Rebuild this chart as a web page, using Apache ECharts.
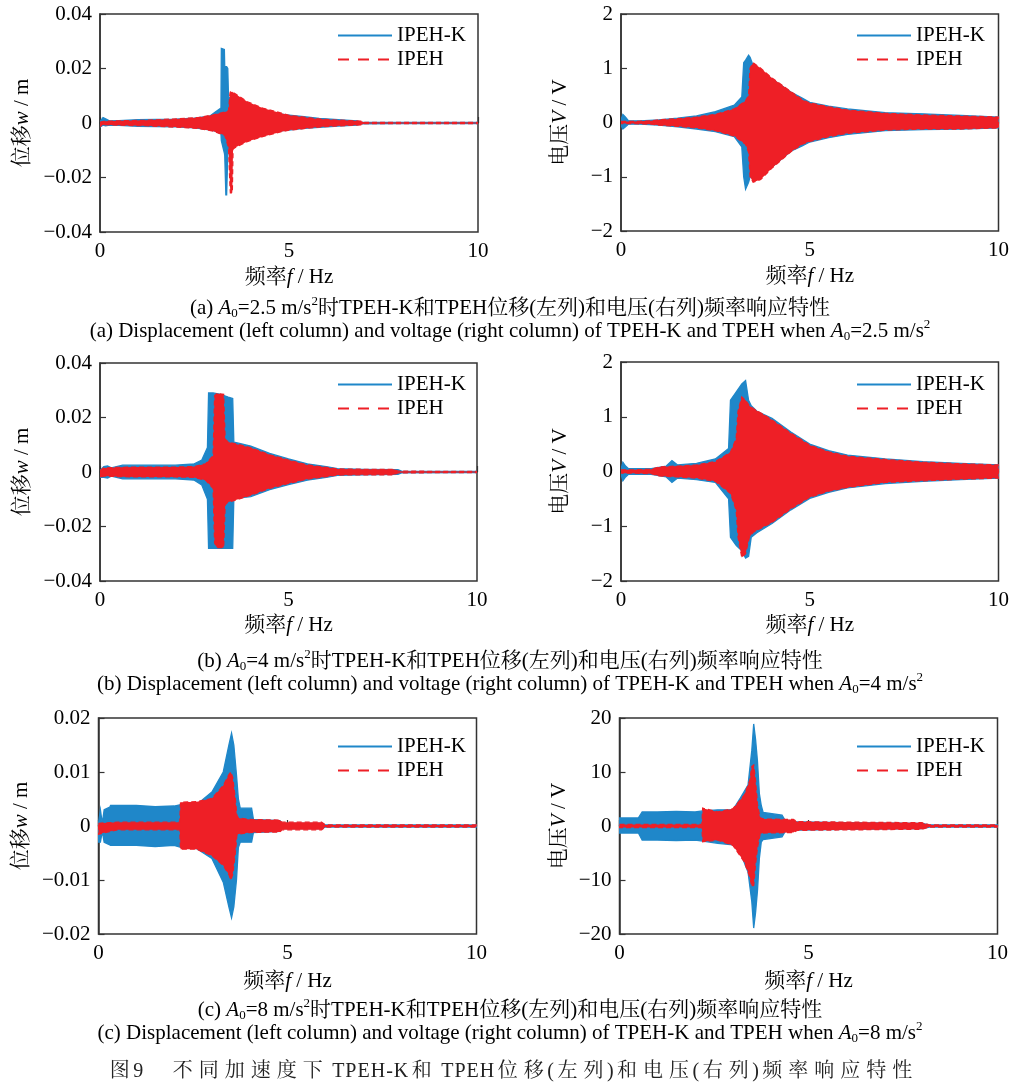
<!DOCTYPE html>
<html>
<head>
<meta charset="utf-8">
<script src="https://cdn.jsdelivr.net/npm/echarts@6/dist/echarts.min.js"></script>
<style>html,body{margin:0;padding:0;background:#fff}#c{width:1012px;height:1085px}</style>
</head>
<body>
<div id="c"></div>
<script>
// ---------- data (envelopes) ----------
// (a) A0 = 2.5 m/s^2 — displacement
const dispA_K_f  = [0,0.08,0.15,0.25,0.5,1.0,1.5,2.0,2.5,2.9,3.05,3.2,3.21,3.29,3.30,3.33,3.35,3.38,3.40,3.5,3.8,4.2,4.6,5.0,5.4,5.8,6.3,6.8,6.9,8,10];
const dispA_K_hi = [0.0005,0.002,0.0015,0.0008,0.0009,0.0012,0.0013,0.0014,0.0018,0.0025,0.004,0.0055,0.0274,0.027,0.0207,0.0207,0.0207,0.02,0.0095,0.009,0.0068,0.005,0.0036,0.0029,0.0023,0.0017,0.0012,0.0008,0.0003,0.0002,0.0002];
const dispA_K_lo = [-0.0015,-0.0008,-0.001,-0.0008,-0.0009,-0.0012,-0.0013,-0.0014,-0.0018,-0.0025,-0.003,-0.004,-0.0065,-0.011,-0.012,-0.0264,-0.0264,-0.012,-0.0085,-0.008,-0.0062,-0.0046,-0.0031,-0.0026,-0.002,-0.0016,-0.0011,-0.0008,-0.0003,-0.0002,-0.0002];
const dispA_P_f  = [0,0.1,0.5,1.2,2.0,2.6,3.0,3.3,3.40,3.44,3.45,3.50,3.52,3.6,3.9,4.3,4.8,5.0,5.3,5.7,6.2,6.9,7.0,10];
const dispA_P_hi = [0.0003,0.0006,0.0008,0.001,0.0015,0.002,0.003,0.004,0.0045,0.011,0.0114,0.0115,0.0112,0.0105,0.0078,0.0055,0.0036,0.0028,0.0023,0.0016,0.0011,0.0007,0.0002,0.0002];
const dispA_P_lo = [-0.0012,-0.0006,-0.0008,-0.001,-0.0015,-0.002,-0.003,-0.0045,-0.009,-0.0235,-0.0256,-0.0256,-0.0095,-0.0088,-0.0068,-0.005,-0.0032,-0.0026,-0.0022,-0.0016,-0.0011,-0.0007,-0.0002,-0.0002];
// (a) voltage
const voltA_K_f  = [0,0.05,0.12,0.2,0.5,1.0,1.5,2.0,2.5,3.0,3.2,3.25,3.3,3.38,3.42,3.5,4.0,4.5,4.8,5.0,5.5,6.0,7.0,8.0,9.0,10];
const voltA_K_hi = [0.05,0.15,0.1,0.03,0.03,0.05,0.08,0.12,0.2,0.32,0.47,1.1,1.15,1.24,1.2,1.05,0.8,0.56,0.45,0.37,0.3,0.25,0.18,0.16,0.13,0.1];
const voltA_K_lo = [-0.05,-0.12,-0.08,-0.03,-0.03,-0.05,-0.08,-0.12,-0.17,-0.26,-0.45,-1.0,-1.23,-1.1,-1.0,-1.02,-0.82,-0.53,-0.43,-0.36,-0.28,-0.22,-0.15,-0.13,-0.12,-0.1];
const voltA_P_f  = [0,0.3,0.8,1.0,1.5,2.0,2.5,3.0,3.3,3.38,3.42,3.5,3.7,4.0,4.5,4.8,5.0,5.5,6.0,7.0,8.0,9.0,10];
const voltA_P_hi = [0.02,0.02,0.03,0.05,0.07,0.1,0.15,0.25,0.4,0.5,1.0,1.1,1.0,0.82,0.57,0.42,0.36,0.29,0.23,0.17,0.14,0.12,0.1];
const voltA_P_lo = [-0.02,-0.02,-0.03,-0.05,-0.07,-0.1,-0.15,-0.25,-0.4,-0.55,-1.0,-1.1,-1.05,-0.84,-0.54,-0.4,-0.35,-0.26,-0.2,-0.14,-0.12,-0.12,-0.1];
// (b) A0 = 4 m/s^2 — displacement
const dispB_K_f  = [0,0.1,0.2,0.3,0.6,1.0,1.5,2.0,2.5,2.7,2.85,2.88,3.0,3.2,3.4,3.52,3.55,3.7,4.0,4.5,5.0,5.5,6.0,6.3,7.0,7.9,8.0,10];
const dispB_K_hi = [0.0005,0.002,0.0022,0.0015,0.0025,0.0025,0.0025,0.0025,0.003,0.0044,0.009,0.029,0.029,0.0285,0.0275,0.027,0.011,0.0105,0.0095,0.0068,0.0048,0.003,0.002,0.0012,0.001,0.0009,0.0003,0.0002];
const dispB_K_lo = [-0.002,-0.002,-0.0022,-0.0015,-0.0025,-0.0025,-0.0025,-0.0025,-0.003,-0.0048,-0.01,-0.028,-0.028,-0.028,-0.028,-0.028,-0.0097,-0.0095,-0.009,-0.0065,-0.0046,-0.003,-0.002,-0.0012,-0.001,-0.0009,-0.0003,-0.0002];
const dispB_P_f  = [0,0.1,0.5,1.0,2.0,2.5,2.8,3.0,3.04,3.1,3.28,3.32,3.4,3.6,4.0,4.5,5.0,5.5,6.0,6.3,7.0,7.8,7.9,10];
const dispB_P_hi = [0.0005,0.0015,0.0017,0.0018,0.0018,0.002,0.003,0.006,0.028,0.0288,0.0285,0.012,0.011,0.0103,0.0089,0.0063,0.0044,0.0026,0.0017,0.0011,0.001,0.001,0.0003,0.0002];
const dispB_P_lo = [-0.002,-0.0015,-0.0017,-0.0018,-0.0018,-0.002,-0.003,-0.006,-0.026,-0.0277,-0.0277,-0.012,-0.011,-0.0103,-0.0085,-0.006,-0.0042,-0.0026,-0.0017,-0.0011,-0.001,-0.001,-0.0003,-0.0002];
// (b) voltage
const voltB_K_f  = [0,0.05,0.12,0.2,0.8,1.2,1.35,1.5,2.0,2.5,2.85,2.9,3.05,3.2,3.3,3.38,3.45,3.6,4.0,4.5,5.0,5.5,6.0,7.0,8.0,9.0,10];
const voltB_K_hi = [0.05,0.17,0.1,0.05,0.05,0.1,0.2,0.12,0.15,0.23,0.42,1.3,1.45,1.6,1.66,1.3,1.2,1.1,0.97,0.72,0.5,0.38,0.3,0.23,0.18,0.15,0.12];
const voltB_K_lo = [-0.05,-0.17,-0.1,-0.05,-0.05,-0.1,-0.2,-0.12,-0.15,-0.2,-0.5,-1.2,-1.35,-1.45,-1.58,-1.55,-1.2,-1.12,-0.95,-0.7,-0.49,-0.38,-0.3,-0.22,-0.18,-0.15,-0.12];
const voltB_P_f  = [0,0.3,0.8,1.0,1.5,2.0,2.5,2.9,3.05,3.1,3.2,3.3,3.4,3.5,3.8,4.0,4.5,5.0,5.5,6.0,7.0,8.0,9.0,10];
const voltB_P_hi = [0.03,0.03,0.04,0.08,0.1,0.12,0.18,0.35,0.6,1.1,1.36,1.3,1.2,1.15,1.03,0.94,0.7,0.48,0.36,0.28,0.22,0.17,0.14,0.12];
const voltB_P_lo = [-0.03,-0.03,-0.04,-0.08,-0.1,-0.12,-0.18,-0.4,-0.7,-1.2,-1.57,-1.5,-1.2,-1.11,-1.0,-0.93,-0.68,-0.47,-0.36,-0.29,-0.2,-0.17,-0.14,-0.12];
// (c) A0 = 8 m/s^2 — displacement
const dispC_K_f  = [0,0.05,0.1,0.15,0.3,0.32,1.0,1.5,2.0,2.2,2.6,3.0,3.3,3.45,3.52,3.58,3.65,3.7,3.75,4.05,4.1,4.8,4.85,5.9,6.0,10];
const dispC_K_hi = [0.0005,0.003,0.0005,0.003,0.0035,0.0038,0.0038,0.0036,0.0037,0.004,0.004,0.0063,0.01,0.015,0.0172,0.015,0.0095,0.005,0.0033,0.0033,0.0012,0.001,0.0005,0.0005,0.0002,0.0002];
const dispC_K_lo = [-0.003,-0.003,-0.001,-0.003,-0.0035,-0.0036,-0.0036,-0.0038,-0.0036,-0.004,-0.0042,-0.006,-0.0104,-0.015,-0.017,-0.015,-0.01,-0.004,-0.003,-0.003,-0.0012,-0.001,-0.0005,-0.0005,-0.0002,-0.0002];
const dispC_P_f  = [0,0.5,1.0,2.0,2.15,2.17,2.6,3.0,3.3,3.45,3.5,3.55,3.62,3.66,3.7,4.0,4.8,4.85,5.9,6.0,10];
const dispC_P_hi = [0.0005,0.0007,0.0007,0.0007,0.0007,0.0044,0.0045,0.0051,0.0075,0.0095,0.01,0.009,0.005,0.002,0.0015,0.0012,0.0011,0.0007,0.0007,0.0002,0.0002];
const dispC_P_lo = [-0.0015,-0.0007,-0.0007,-0.0007,-0.0007,-0.0043,-0.0043,-0.0055,-0.0073,-0.009,-0.01,-0.009,-0.005,-0.0017,-0.0015,-0.0012,-0.0011,-0.0007,-0.0007,-0.0002,-0.0002];
// (c) voltage
const voltC_K_f  = [0,0.5,0.6,1.0,1.5,2.0,2.2,2.6,3.0,3.2,3.4,3.5,3.55,3.6,3.65,3.7,3.75,3.8,4.3,4.4,6.0,8.0,8.2,10];
const voltC_K_hi = [1.5,1.5,2.6,2.6,2.7,2.6,2.8,3.0,3.0,5.2,7.6,14,18.9,16,12,6,3.8,2.5,2.0,0.8,0.6,0.5,0.2,0.2];
const voltC_K_lo = [-1.3,-1.3,-2.6,-2.6,-2.7,-2.6,-2.8,-3.2,-3.5,-5.0,-8.5,-14,-18.9,-16,-12,-6,-3.0,-2.5,-2.0,-0.8,-0.6,-0.5,-0.2,-0.2];
const voltC_P_f  = [0,1.0,2.0,2.18,2.2,2.6,3.0,3.3,3.45,3.5,3.55,3.6,3.65,3.72,3.8,4.6,4.7,8.0,8.2,10];
const voltC_P_hi = [0.3,0.3,0.3,0.3,3.3,2.6,3.2,5.7,8.5,11.0,11.3,8.3,4.0,1.5,1.3,1.2,0.8,0.6,0.2,0.2];
const voltC_P_lo = [-0.3,-0.3,-0.3,-0.3,-2.9,-2.6,-3.6,-6.6,-9.5,-11.2,-11.0,-7,-4.0,-1.5,-1.3,-1.2,-0.8,-0.6,-0.2,-0.2];

// axis ranges / labels
const xRange = [0, 10, 5];
const dispAB_range = [-0.04, 0.04, 0.02];
const voltAB_range = [-2, 2, 1];
const dispC_range = [-0.02, 0.02, 0.01];
const voltC_range = [-20, 20, 10];
const legendNames = ['IPEH-K', 'IPEH'];
const xName = '频率{i|f} / Hz';
const dispName = '位移{i|w} / m';
const voltName = '电压{i|V} / V';
const captions = [
  '(a) {i|A}{sub|0}=2.5 m/s{sup|2}时TPEH-K和TPEH位移(左列)和电压(右列)频率响应特性',
  '(a) Displacement (left column) and voltage (right column) of TPEH-K and TPEH when {i|A}{sub|0}=2.5 m/s{sup|2}',
  '(b) {i|A}{sub|0}=4 m/s{sup|2}时TPEH-K和TPEH位移(左列)和电压(右列)频率响应特性',
  '(b) Displacement (left column) and voltage (right column) of TPEH-K and TPEH when {i|A}{sub|0}=4 m/s{sup|2}',
  '(c) {i|A}{sub|0}=8 m/s{sup|2}时TPEH-K和TPEH位移(左列)和电压(右列)频率响应特性',
  '(c) Displacement (left column) and voltage (right column) of TPEH-K and TPEH when {i|A}{sub|0}=8 m/s{sup|2}'
];
const figCaption = '图9\u3000不同加速度下 TPEH-K和 TPEH位移(左列)和电压(右列)频率响应特性';

// ---------- styling ----------
const FONT = "'Liberation Serif','Times New Roman','Noto Serif CJK SC','Noto Sans CJK SC',serif";
const BLUE = '#1f87c9';
const RED = '#ee1f26';
const FRAME = '#333';

const grids = [
  {left:100, top:14, width:378, height:218},
  {left:621, top:14, width:378, height:217},
  {left:100, top:363, width:377, height:218},
  {left:621, top:362, width:379, height:219},
  {left:98.5, top:718, width:378, height:216},
  {left:619.5, top:718, width:378, height:216}
];
const yRanges = [dispAB_range, voltAB_range, dispAB_range, voltAB_range, dispC_range, voltC_range];
const xNameGaps = [35, 35, 34, 34, 37, 37];
const legendPos = [[337,25],[856,25],[337,374],[856,374],[337,736],[856,736]];

const richName = {
  i: {fontStyle:'italic', fontFamily:FONT, fontSize:21}
};

function minusFmt(v){ return String(v).replace('-', '\u2212'); }

const xAxes = grids.map((g, i) => ({
  type:'value', gridIndex:i, min:xRange[0], max:xRange[1], interval:xRange[2],
  name:xName, nameLocation:'middle', nameGap:xNameGaps[i],
  nameTextStyle:{fontSize:21, fontFamily:FONT, color:'#000', rich:richName},
  axisLine:{show:true, lineStyle:{color:FRAME, width:1.5}},
  axisTick:{show:true, inside:true, length:6, lineStyle:{color:FRAME, width:1.2}},
  axisLabel:{margin:9, fontSize:21, fontFamily:FONT, color:'#000', formatter:minusFmt},
  splitLine:{show:false}
}));
const yAxes = grids.map((g, i) => ({
  type:'value', gridIndex:i, min:yRanges[i][0], max:yRanges[i][1], interval:yRanges[i][2],
  name: (i % 2 === 0) ? dispName : voltName, nameLocation:'middle', nameRotate:90,
  nameGap: (i % 2 === 0) ? 67 : 50,
  nameTextStyle:{fontSize:21, fontFamily:FONT, color:'#000', rich:richName},
  axisLine:{show:true, lineStyle:{color:FRAME, width:1.5}},
  axisTick:{show:true, inside:true, length:6, lineStyle:{color:FRAME, width:1.2}},
  axisLabel:{margin:8, fontSize:21, fontFamily:FONT, color:'#000', formatter:minusFmt},
  splitLine:{show:false}
}));

function band(idx, f, hi, lo, color, dashed, z) {
  return {
    type:'custom', name:'band' + idx + (dashed ? 'P' : 'K'), xAxisIndex:idx, yAxisIndex:idx,
    data:[[f[0], 0]], silent:true, z:z, clip:true,
    renderItem: function (params, api) {
      const pts = [];
      for (let k = 0; k < f.length; k++) pts.push(api.coord([f[k], hi[k]]));
      for (let k = f.length - 1; k >= 0; k--) pts.push(api.coord([f[k], lo[k]]));
      return {
        type:'polygon', shape:{points:pts},
        style:{fill:color, stroke:color, lineWidth:1.3, lineDash: dashed ? [5,3] : null}
      };
    }
  };
}

const traces = [
  [dispA_K_f, dispA_K_hi, dispA_K_lo, dispA_P_f, dispA_P_hi, dispA_P_lo],
  [voltA_K_f, voltA_K_hi, voltA_K_lo, voltA_P_f, voltA_P_hi, voltA_P_lo],
  [dispB_K_f, dispB_K_hi, dispB_K_lo, dispB_P_f, dispB_P_hi, dispB_P_lo],
  [voltB_K_f, voltB_K_hi, voltB_K_lo, voltB_P_f, voltB_P_hi, voltB_P_lo],
  [dispC_K_f, dispC_K_hi, dispC_K_lo, dispC_P_f, dispC_P_hi, dispC_P_lo],
  [voltC_K_f, voltC_K_hi, voltC_K_lo, voltC_P_f, voltC_P_hi, voltC_P_lo]
];

const series = [
  {type:'line', name:legendNames[0], data:[[-5,0]], xAxisIndex:0, yAxisIndex:0, symbol:'none', showSymbol:false,
   lineStyle:{color:BLUE, width:2}, itemStyle:{color:BLUE}},
  {type:'line', name:legendNames[1], data:[[-5,0]], xAxisIndex:0, yAxisIndex:0, symbol:'none', showSymbol:false,
   lineStyle:{color:RED, width:2, type:[11,9]}, itemStyle:{color:RED}}
];
traces.forEach((t, i) => {
  series.push(band(i, t[0], t[1], t[2], BLUE, false, 2));
  series.push(band(i, t[3], t[4], t[5], RED, true, 3));
});

const legends = legendPos.map(p => ({
  orient:'vertical', left:p[0], top:p[1], itemWidth:54, itemHeight:14, itemGap:3, padding:0,
  selectedMode:false, data:legendNames,
  itemStyle:{opacity:0},
  textStyle:{fontSize:21, fontFamily:FONT, color:'#000'}
}));

const capRich = {
  i:{fontStyle:'italic', fontSize:21, fontFamily:FONT, fill:'#000'},
  sub:{fontSize:13, fontFamily:FONT, fill:'#000', verticalAlign:'bottom', lineHeight:15},
  sup:{fontSize:13, fontFamily:FONT, fill:'#000', verticalAlign:'top', lineHeight:15}
};
const capY = [308, 331, 661, 684, 1010, 1033];
const graphics = captions.map((c, i) => ({
  type:'text', x:510, y:capY[i], silent:true,
  style:{text:c, rich:capRich, fontSize:21, fontFamily:FONT, fill:'#000',
         align:'center', verticalAlign:'middle', lineHeight:25}
}));
const isCJK = ch => /[\u3000-\u9fff]/.test(ch);
graphics.push({
  type:'text', x:511, y:1072, silent:true,
  style:{
    text: Array.from(figCaption).map(ch => (isCJK(ch) ? '{c|' : '{l|') + ch + '}').join(''),
    rich:{
      c:{fontSize:20, fontFamily:FONT, fill:'#222', padding:[0,3,0,3]},
      l:{fontSize:20, fontFamily:FONT, fill:'#222', padding:[0,0.5,0,0.5]}
    },
    fontSize:20, fontFamily:FONT, fill:'#222', align:'center', verticalAlign:'middle', lineHeight:24
  }
});

const chart = echarts.init(document.getElementById('c'), null, {renderer:'canvas'});
chart.setOption({
  backgroundColor:'#fff',
  animation:false,
  textStyle:{fontFamily:FONT},
  grid: grids.map(g => Object.assign({show:true, borderColor:FRAME, borderWidth:1.5, backgroundColor:'transparent'}, g)),
  xAxis:xAxes, yAxis:yAxes, legend:legends, series:series, graphic:graphics
});
</script>
</body>
</html>
